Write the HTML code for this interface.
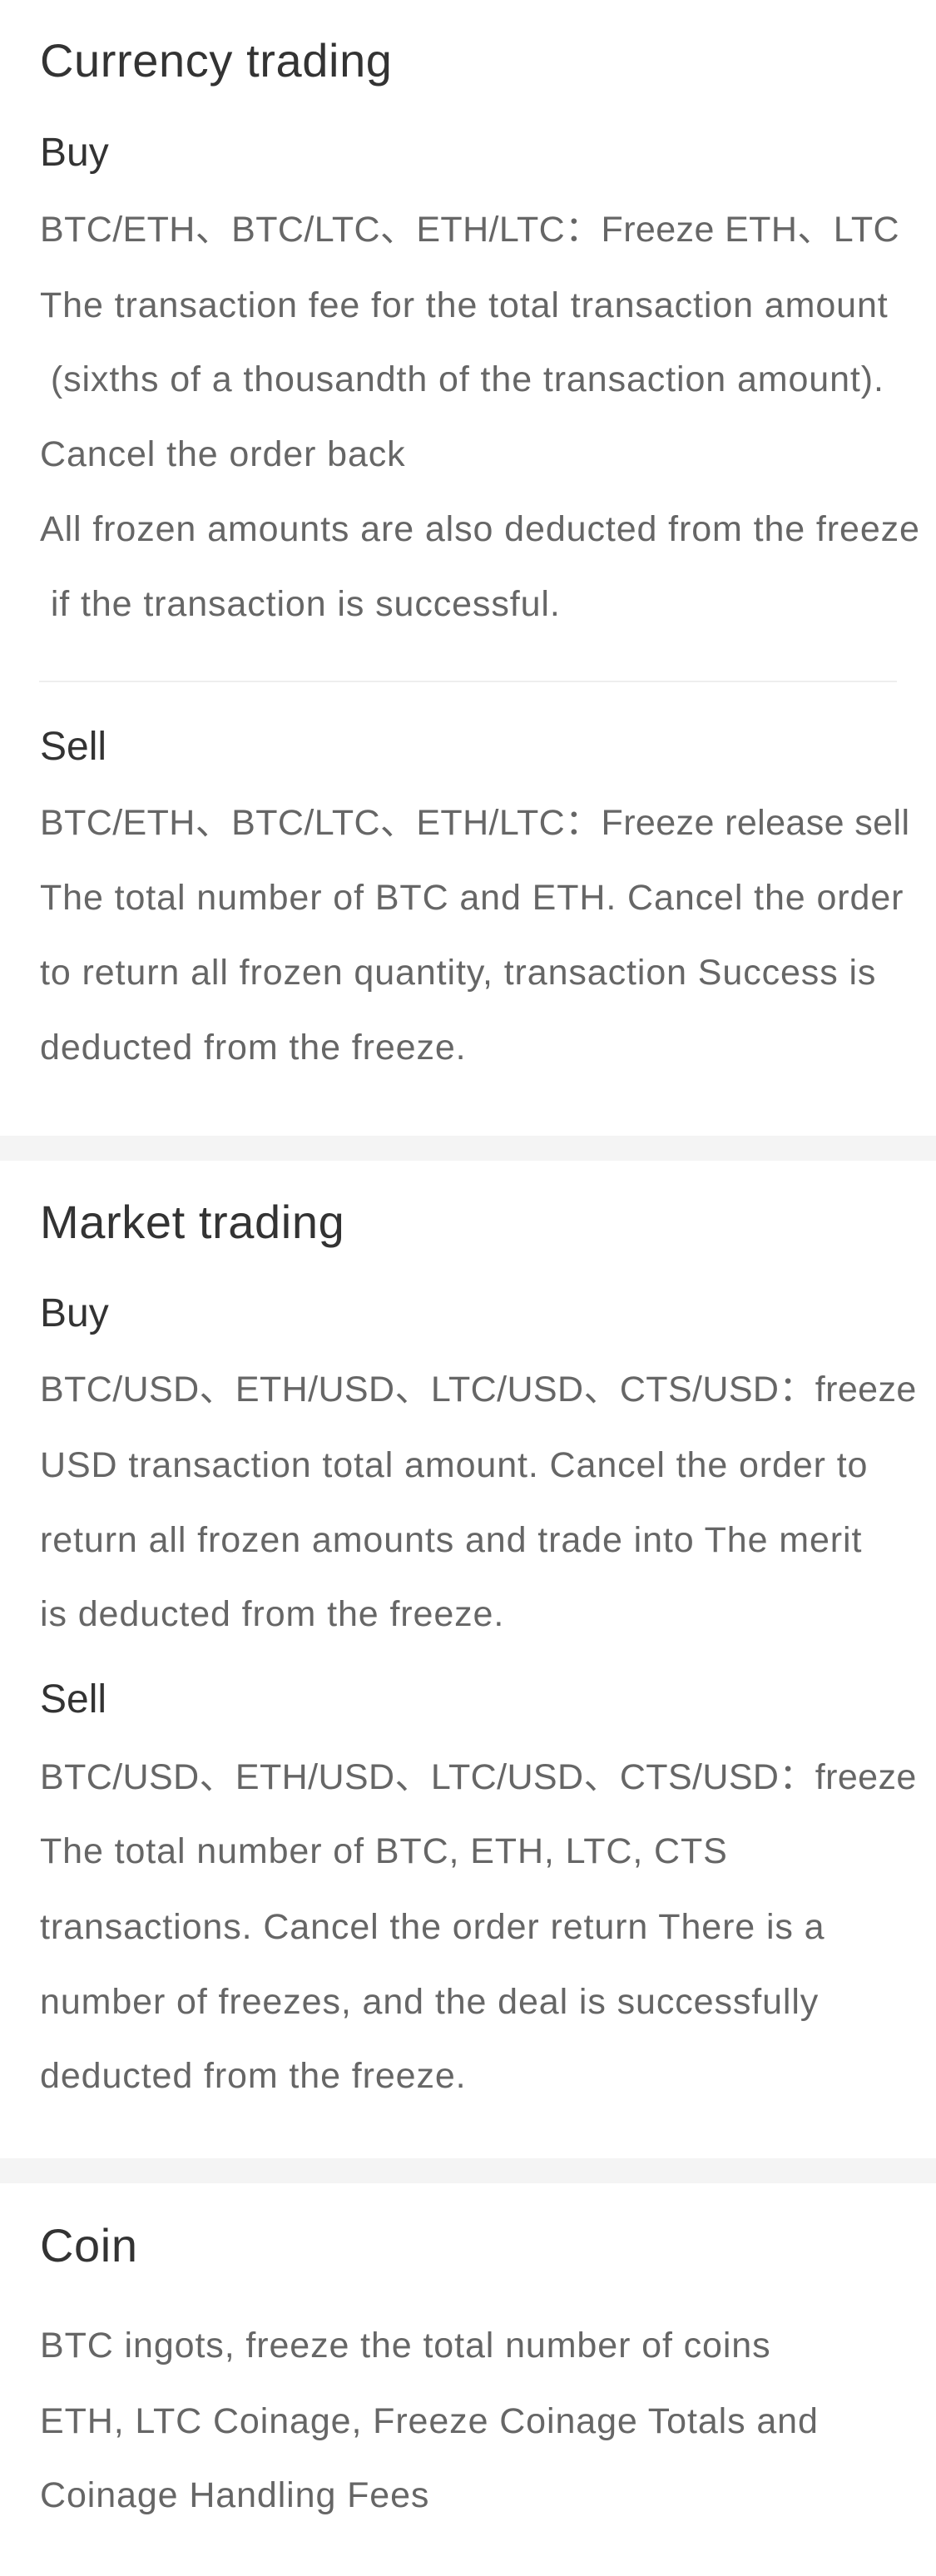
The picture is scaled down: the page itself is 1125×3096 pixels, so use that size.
<!DOCTYPE html>
<html><head><meta charset="utf-8"><style>
body{margin:0;width:1125px;height:3096px;background:#fff;position:relative;overflow:hidden;font-family:"Liberation Sans","Noto Sans CJK SC",sans-serif;}
.t{position:absolute;left:48px;white-space:pre;line-height:90px;height:90px;}
.h1{font-size:56px;color:#333;letter-spacing:0.6px;}
.h2{font-size:48px;color:#333;}
.p{font-size:43px;color:#666;letter-spacing:0.9px;}
.p.c{letter-spacing:0.4px;}
.band{position:absolute;left:0;width:1125px;height:30px;background:#f4f4f4;}
.div{position:absolute;left:47px;width:1031px;height:2px;background:#eee;top:818px;}
</style></head><body>
<div class="t h1" style="top:28px">Currency trading</div>
<div class="t h2" style="top:139px">Buy</div>
<div class="t p c" style="top:231px">BTC/ETH、BTC/LTC、ETH/LTC：Freeze ETH、LTC</div>
<div class="t p" style="top:322px">The transaction fee for the total transaction amount</div>
<div class="t p" style="top:411px"> (sixths of a thousandth of the transaction amount).</div>
<div class="t p" style="top:501px">Cancel the order back</div>
<div class="t p" style="top:591px">All frozen amounts are also deducted from the freeze</div>
<div class="t p" style="top:681px"> if the transaction is successful.</div>
<div class="div"></div>
<div class="t h2" style="top:853px">Sell</div>
<div class="t p c" style="top:944px">BTC/ETH、BTC/LTC、ETH/LTC：Freeze release sell</div>
<div class="t p" style="top:1034px">The total number of BTC and ETH. Cancel the order</div>
<div class="t p" style="top:1124px">to return all frozen quantity, transaction Success is</div>
<div class="t p" style="top:1214px">deducted from the freeze.</div>
<div class="band" style="top:1365px"></div>
<div class="t h1" style="top:1424px">Market trading</div>
<div class="t h2" style="top:1534px">Buy</div>
<div class="t p c" style="top:1625px">BTC/USD、ETH/USD、LTC/USD、CTS/USD：freeze</div>
<div class="t p" style="top:1716px">USD transaction total amount. Cancel the order to</div>
<div class="t p" style="top:1806px">return all frozen amounts and trade into The merit</div>
<div class="t p" style="top:1895px">is deducted from the freeze.</div>
<div class="t h2" style="top:1998px">Sell</div>
<div class="t p c" style="top:2091px">BTC/USD、ETH/USD、LTC/USD、CTS/USD：freeze</div>
<div class="t p" style="top:2180px">The total number of BTC, ETH, LTC, CTS</div>
<div class="t p" style="top:2271px">transactions. Cancel the order return There is a</div>
<div class="t p" style="top:2361px">number of freezes, and the deal is successfully</div>
<div class="t p" style="top:2450px">deducted from the freeze.</div>
<div class="band" style="top:2594px"></div>
<div class="t h1" style="top:2654px">Coin</div>
<div class="t p" style="top:2774px">BTC ingots, freeze the total number of coins</div>
<div class="t p" style="top:2865px">ETH, LTC Coinage, Freeze Coinage Totals and</div>
<div class="t p" style="top:2954px">Coinage Handling Fees</div>
</body></html>
